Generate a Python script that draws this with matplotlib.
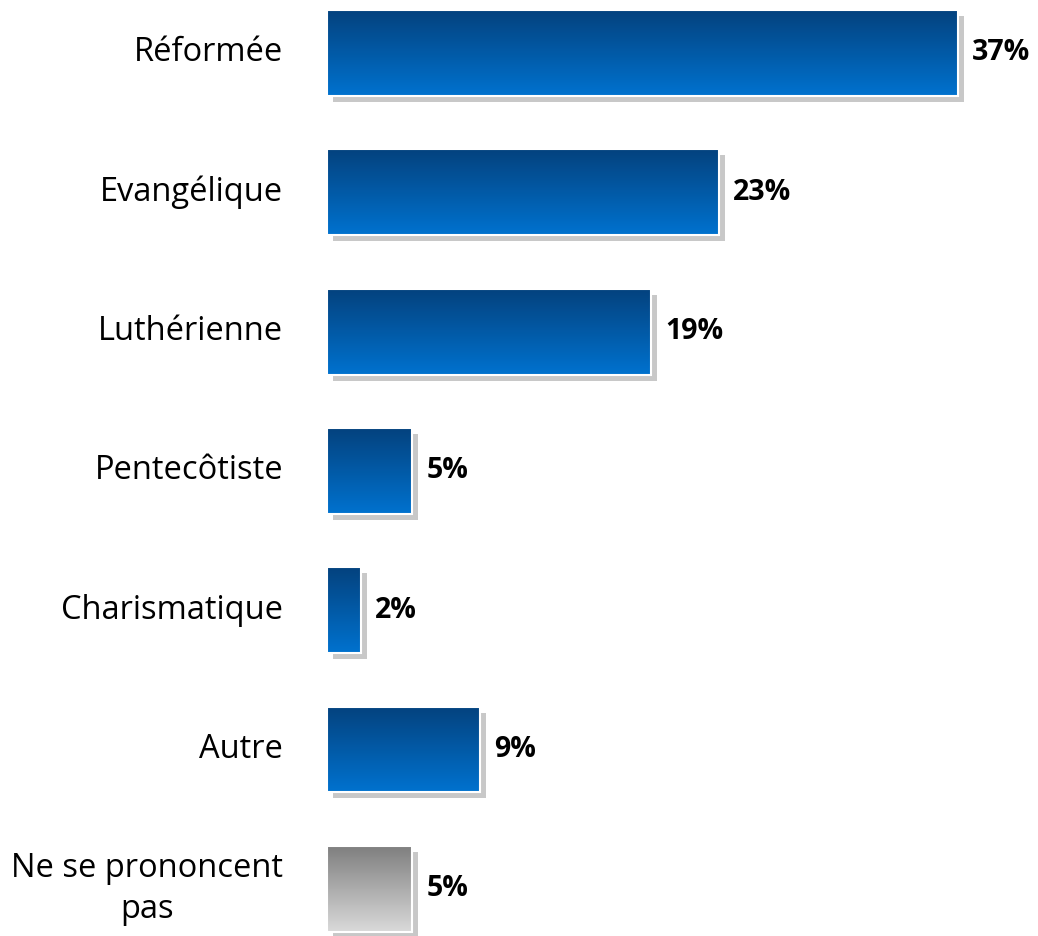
import numpy as np
import matplotlib.pyplot as plt
from matplotlib.patches import Rectangle
from matplotlib.colors import LinearSegmentedColormap

categories = ['Réformée', 'Evangélique', 'Luthérienne', 'Pentecôtiste',
              'Charismatique', 'Autre', 'Ne se prononcent\npas']
values = [37, 23, 19, 5, 2, 9, 5]
labels = ['37%', '23%', '19%', '5%', '2%', '9%', '5%']

plt.rcParams['font.family'] = ['Open Sans', 'DejaVu Sans']

W, H = 1038, 936
fig = plt.figure(figsize=(W / 100, H / 100), dpi=100)
# axes starts at the bars' left edge, pixel-matched
px_per_unit = 17.05
ax = fig.add_axes([327 / W, 0, (W - 327) / W, 1])
ax.set_xlim(0, (W - 327) / px_per_unit)
step = 139.3
ax.set_ylim((H - 53) / step, -53 / step)
ax.axis('off')

blue = LinearSegmentedColormap.from_list('b', ['#04427e', '#0072cf'])
grey = LinearSegmentedColormap.from_list('g', ['#7f7f7f', '#dadada'])
grad = np.linspace(0, 1, 256).reshape(-1, 1)

bh = 0.617
dx = 6 / px_per_unit
dy = 6 / step
for i, (v, lab) in enumerate(zip(values, labels)):
    cmap = grey if i == len(values) - 1 else blue
    y0 = i - bh / 2
    # shadow
    ax.add_patch(Rectangle((dx, y0 + dy), v, bh, facecolor='#c8c8c8',
                           edgecolor='none', zorder=1))
    im = ax.imshow(grad, cmap=cmap, aspect='auto',
                   extent=(0, v, y0 + bh, y0), zorder=2)
    rect = Rectangle((0, y0), v, bh, facecolor='none', edgecolor='white',
                     linewidth=1.5, zorder=3)
    ax.add_patch(rect)
    im.set_clip_path(rect)
    ax.text(v + 14 / px_per_unit, i, lab, ha='left', va='center',
            fontsize=20.5, fontweight='bold', color='black')
    ax.text(-44 / px_per_unit, i, categories[i], ha='right', va='center',
            fontsize=23.5, color='black', multialignment='center',
            clip_on=False, linespacing=1.3)

fig.savefig('out.png', dpi=100)
